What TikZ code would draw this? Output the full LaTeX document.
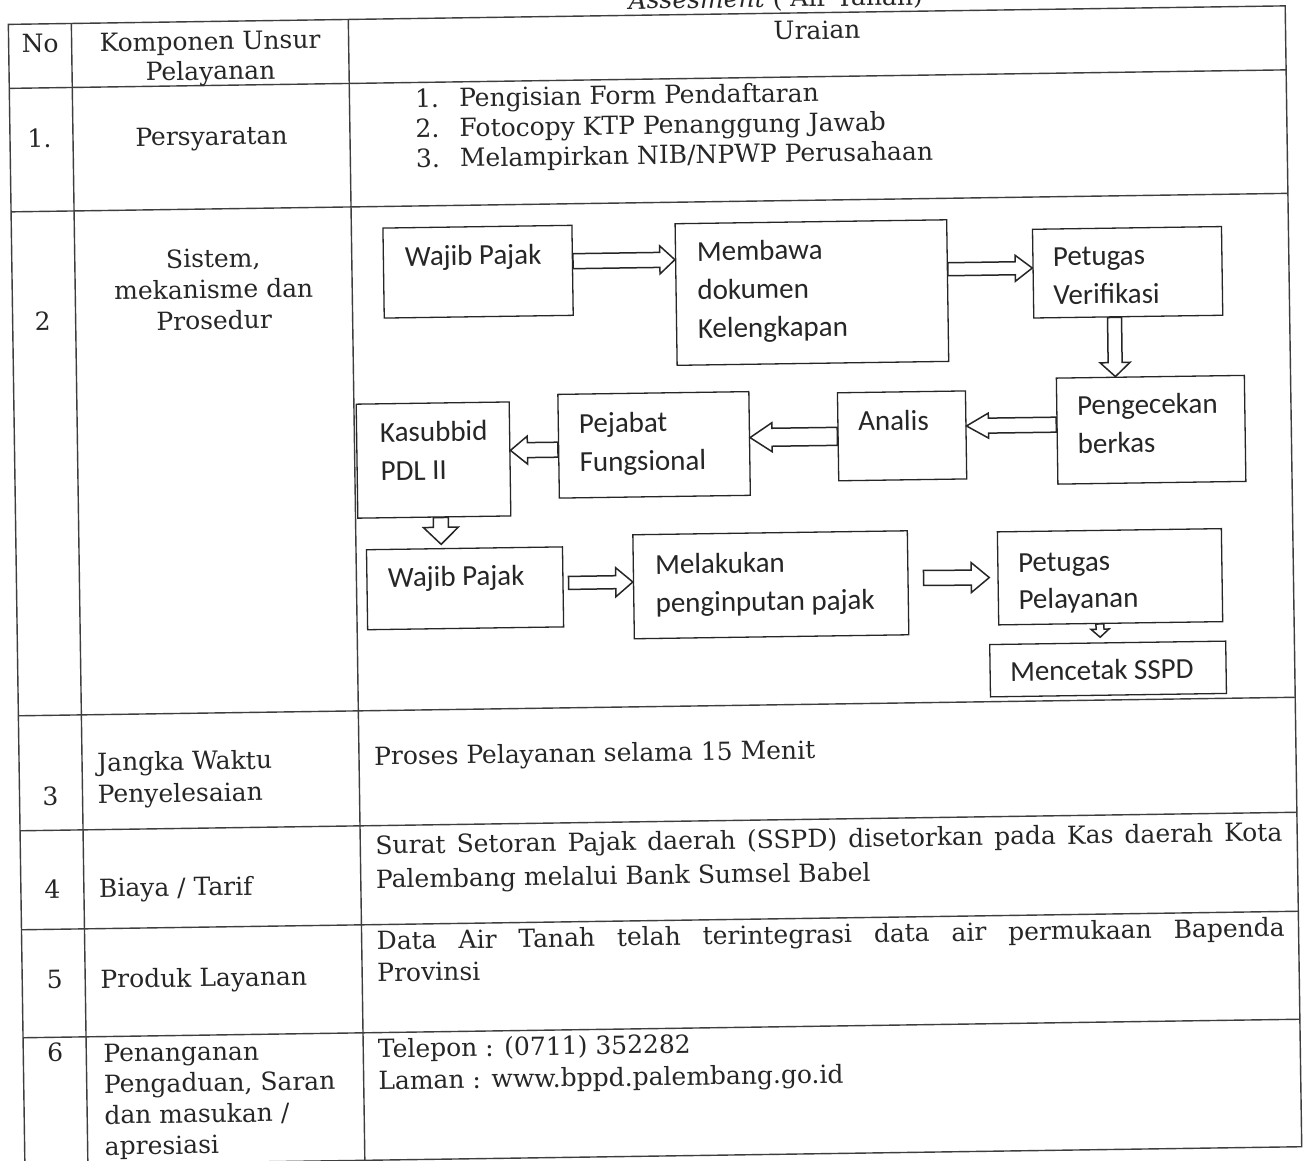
\documentclass[tikz,border=0pt]{standalone}
\usepackage{fontspec}
\setmainfont{DejaVu Serif}
\newfontfamily\carl{Carlito}
\usetikzlibrary{calc}
\definecolor{ink}{RGB}{38,38,38}
\definecolor{rulec}{RGB}{62,62,62}
% stacked lines, spaced by the current \baselineskip, baseline = first line
\newcommand\tl[1]{\vtop{\lineskiplimit=-100pt\halign{##\hfil\cr#1\crcr}}}
\newcommand\tc[1]{\vtop{\lineskiplimit=-100pt\halign{\hfil##\hfil\cr#1\crcr}}}
% block arrow from coordinate #1 to coordinate #2: shaft half width #3, head half width #4, head length #5
\newcommand\blockarrow[5]{%
  \coordinate (ba-h) at ($(#2)!#5!(#1)$);
  \draw[barrow] ($(#1)!#3!90:(#2)$) -- ($(ba-h)!#3!90:(#2)$) -- ($(ba-h)!#4!90:(#2)$) -- (#2)
     -- ($(ba-h)!#4!-90:(#2)$) -- ($(ba-h)!#3!-90:(#2)$) -- ($(#1)!#3!-90:(#2)$) -- cycle;
}
\tikzset{
  tline/.style={draw=rulec, line width=1.4pt},
  ttext/.style={font=\fontsize{25}{31}\selectfont, inner sep=0pt, text=ink},
  fbox/.style={draw=ink, line width=1.3pt, inner sep=0pt},
  ftext/.style={font=\carl\fontsize{29}{38.5}\selectfont, inner sep=0pt, text=ink, anchor=base west},
  barrow/.style={draw=ink, line width=1.5pt, fill=white, line join=miter}
}
\begin{document}
\begin{tikzpicture}[x=1pt, y=-1pt]
\useasboundingbox (0,0) rectangle (1304,1160);
\fill[white] (0,0) rectangle (1304,1160);
\clip (0,0) rectangle (1304,1160);
\begin{scope}[rotate=0.831, transform shape]
% ---------- table grid ----------
\draw[tline] (8,24.5) rectangle (1285,1165.5);
\foreach \yy in {88.5,212,716,831,930,1038} \draw[tline] (8,\yy) -- (1285,\yy);
\foreach \xx in {71,348} \draw[tline] (\xx,24.5) -- (\xx,1165.5);
% ---------- title (cut at top) ----------
\node[ttext, anchor=base east] (title) at (923,18.2) {\textit{Assesment} ( Air Tanah)};
% ---------- header ----------
\node[ttext, anchor=base] (hno) at (39.5,53) {No};
\node[ttext, anchor=base, font=\fontsize{25}{30}\selectfont] (hkomp) at (209.5,53) {\tc{Komponen Unsur\cr Pelayanan}};
\node[ttext, anchor=base] (hur) at (816.5,51) {Uraian};
% ---------- row 1 ----------
\node[ttext, anchor=base] (n1) at (37.5,148) {1.};
\node[ttext, anchor=base] (k1) at (209.5,148) {Persyaratan};
\node[ttext, anchor=base west, font=\fontsize{25}{30}\selectfont] (u1) at (413.5,113.5) {\tl{\makebox[44pt][l]{1.}Pengisian Form Pendaftaran\cr\makebox[44pt][l]{2.}Fotocopy KTP Penanggung Jawab\cr\makebox[44pt][l]{3.}Melampirkan NIB/NPWP Perusahaan}};
% ---------- row 2 ----------
\node[ttext, anchor=base] (n2) at (38,331) {2};
\node[ttext, anchor=base] (k2) at (209.5,270.5) {\tc{Sistem,\cr mekanisme dan\cr Prosedur}};
% ---------- row 3 ----------
\node[ttext, anchor=base] (n3) at (39,806) {3};
\node[ttext, anchor=base west, font=\fontsize{25}{32}\selectfont] (k3) at (86,772.5) {\tl{Jangka Waktu\cr Penyelesaian}};
\node[ttext, anchor=base west] (u3) at (363,770.5) {Proses Pelayanan selama 15 Menit};
% ---------- row 4 ----------
\node[ttext, anchor=base] (n4) at (39.5,899) {4};
\node[ttext, anchor=base west] (k4) at (86,898.5) {Biaya / Tarif};
\node[ttext, anchor=base west, font=\fontsize{25}{34}\selectfont] (u4) at (363,859.5) {\tl{\makebox[907pt][s]{Surat Setoran Pajak daerah (SSPD) disetorkan pada Kas daerah Kota}\cr Palembang melalui Bank Sumsel Babel}};
% ---------- row 5 ----------
\node[ttext, anchor=base] (n5) at (40.5,989) {5};
\node[ttext, anchor=base west] (k5) at (86,989.5) {Produk Layanan};
\node[ttext, anchor=base west, font=\fontsize{25}{32}\selectfont] (u5) at (363,955) {\tl{\makebox[908pt][s]{Data Air Tanah telah terintegrasi data air permukaan Bapenda}\cr Provinsi}};
% ---------- row 6 ----------
\node[ttext, anchor=base] (n6) at (40,1062) {6};
\node[ttext, anchor=base west] (k6) at (88,1063.5) {\tl{Penanganan\cr Pengaduan, Saran\cr dan masukan /\cr apresiasi}};
\node[ttext, anchor=base west, font=\fontsize{25}{32}\selectfont] (u6) at (362.5,1063) {\tl{Telepon : (0711) 352282\cr Laman : www.bppd.palembang.go.id}};
% ---------- flowchart boxes ----------
\node[fbox, minimum width=189pt, minimum height=90pt] (wp1) at (474.1,278.6) {};
\node[fbox, minimum width=271.6pt, minimum height=141.6pt] (memb) at (807.6,304.3) {};
\node[fbox, minimum width=189pt, minimum height=88.7pt] (pv) at (1123.6,288.6) {};
\node[fbox, minimum width=188pt, minimum height=106pt] (peng) at (1144.8,446.4) {};
\node[fbox, minimum width=128pt, minimum height=88pt] (anal) at (895.7,448.9) {};
\node[fbox, minimum width=191pt, minimum height=103.7pt] (pej) at (647.6,454.3) {};
\node[fbox, minimum width=153pt, minimum height=114pt] (kas) at (426.8,466.3) {};
\node[fbox, minimum width=196pt, minimum height=80pt] (wp2) at (456.5,595) {};
\node[fbox, minimum width=274.5pt, minimum height=104pt] (melak) at (762.3,595.9) {};
\node[fbox, minimum width=224pt, minimum height=93pt] (pp) at (1101.6,592.8) {};
\node[fbox, minimum width=236pt, minimum height=52.3pt] (menc) at (1098.3,685) {};
% ---------- flowchart texts ----------
\node[ftext] (wp1t) at (401.1,271.9) {Wajib Pajak};
\node[ftext] (membt) at (693,271.1) {\tl{Membawa\cr dokumen\cr Kelengkapan}};
\node[ftext] (pvt) at (1049,281.3) {\tl{Petugas\cr Verifikasi}};
\node[ftext] (pengt) at (1071,430.6) {\tl{Pengecekan\cr berkas}};
\node[ftext] (analt) at (851.8,443.4) {Analis};
\node[ftext] (pejt) at (572.7,441.4) {\tl{Pejabat\cr Fungsional}};
\node[ftext] (kast) at (373.6,447.5) {\tl{Kasubbid\cr PDL II}};
\node[ftext] (wp2t) at (379.5,592.6) {Wajib Pajak};
\node[ftext] (melakt) at (646.7,583.5) {\tl{Melakukan\cr penginputan pajak}};
\node[ftext, font=\carl\fontsize{29}{37}\selectfont] (ppt) at (1009.7,586.8) {\tl{Petugas\cr Pelayanan}};
\node[ftext] (menct) at (1000.1,695.6) {Mencetak SSPD};
% ---------- arrow end points ----------
\coordinate (a1s) at ($(wp1.east)+(0,-9.1)$);
\coordinate (a1e) at ($(memb.west)+(0,-34.8)$);
\coordinate (a2s) at ($(memb.east)+(0,-21.3)$);
\coordinate (a2e) at ($(pv.west)+(0,-5.6)$);
\coordinate (a3s) at ($(pv.south)+(-13.6,0)$);
\coordinate (a3e) at ($(peng.north)+(-34.8,0)$);
\coordinate (a4s) at ($(peng.west)+(0,-6.4)$);
\coordinate (a4e) at ($(anal.east)+(0,-8.9)$);
\coordinate (a5s) at ($(anal.west)+(0,-0.4)$);
\coordinate (a5e) at ($(pej.east)+(0,-5.8)$);
\coordinate (a6s) at ($(pej.west)+(0,3.5)$);
\coordinate (a6e) at ($(kas.east)+(0,-8.5)$);
\coordinate (a7s) at ($(kas.south)+(6.5,0)$);
\coordinate (a7e) at ($(wp2.north)+(-23.2,-3.6)$);
\coordinate (a8s) at ($(wp2.east)+(5,-3.8)$);
\coordinate (a8e) at ($(melak.west)+(0,-4.7)$);
\coordinate (a9s) at ($(melak.east)+(15,-4.5)$);
\coordinate (a9e) at ($(pp.west)+(-8,-0.9)$);
\coordinate (a10s) at ($(pp.south)+(-10.6,0)$);
\coordinate (a10e) at ($(menc.north)+(-7.3,-5)$);
% ---------- arrows ----------
\blockarrow{a1s}{a1e}{7.5pt}{14pt}{15pt}
\blockarrow{a2s}{a2e}{6.5pt}{13pt}{17pt}
\blockarrow{a3s}{a3e}{7pt}{15pt}{14pt}
\blockarrow{a4s}{a4e}{7.5pt}{12.5pt}{22pt}
\blockarrow{a5s}{a5e}{9pt}{14.5pt}{22pt}
\blockarrow{a6s}{a6e}{7.5pt}{14pt}{17pt}
\blockarrow{a7s}{a7e}{7.5pt}{17.5pt}{17pt}
\blockarrow{a8s}{a8e}{6.5pt}{14.5pt}{17pt}
\blockarrow{a9s}{a9e}{7.5pt}{15pt}{18pt}
\blockarrow{a10s}{a10e}{4pt}{9pt}{8pt}
\end{scope}
\end{tikzpicture}
\end{document}
